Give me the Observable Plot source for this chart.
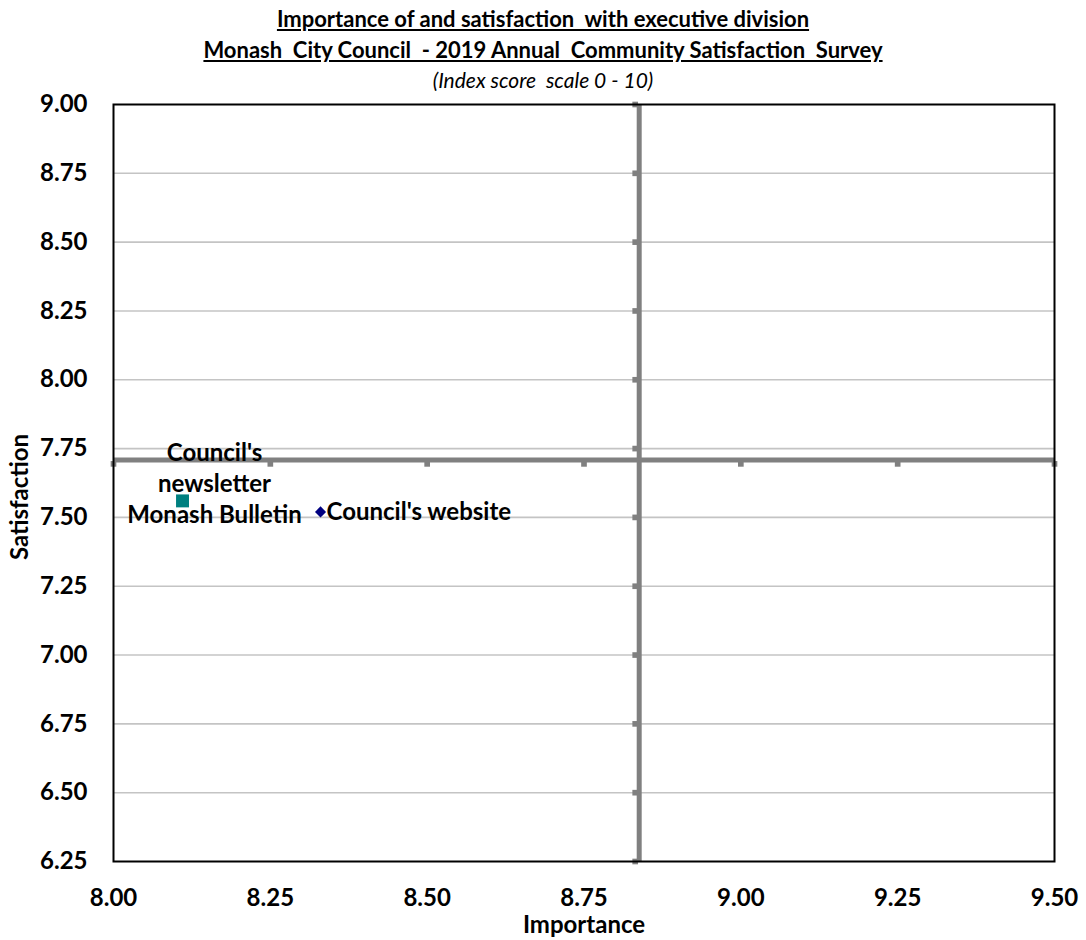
<!DOCTYPE html>
<html>
<head>
<meta charset="utf-8">
<script src="https://cdn.jsdelivr.net/npm/d3@7"></script>
<script src="https://cdn.jsdelivr.net/npm/@observablehq/plot@0.6"></script>
<style>
  body { margin: 0; background: #fff; font-family: Lato, "Open Sans", sans-serif; }
  #wrap { width: 1086px; }
  .hdr { width: 1086px; height: 91px; box-sizing: border-box; text-align: center; padding-top: 3px; color: #000; overflow: hidden; }
  .hdr div { height: 31px; line-height: 31px; white-space: pre; }
  .hdr div.s { height: 22px; line-height: 22px; margin-top: 4px; }
  .t { font-weight: bold; font-size: 22px; text-decoration: underline; }
  .s { font-style: italic; font-size: 21px; }
  #chart svg { display: block; }
</style>
</head>
<body>
<div id="wrap"><div class="hdr"><div class="t" id="t1"></div><div class="t" id="t2"></div><div class="s" id="t3"></div></div><div id="chart"></div></div>
<script>
// ---- data ----
const titleLines = ["Importance of and satisfaction  with executive division",
                    "Monash  City Council  - 2019 Annual  Community Satisfaction  Survey"];
const subtitle = "(Index score  scale 0 - 10)";
const items = ["Council's newsletter Monash Bulletin", "Council's website"];
const itemLabels = ["Council's\nnewsletter\nMonash Bulletin", "Council's website"];
const importance = [8.11, 8.33];
const satisfaction = [7.56, 7.52];
const markerShapes = ["square", "diamond2"];
const markerColors = ["#008080", "#000080"];
const meanImportance = 8.838;
const meanSatisfaction = 7.709;
const xTicks = [8.00, 8.25, 8.50, 8.75, 9.00, 9.25, 9.50];
const yTicks = [6.25, 6.50, 6.75, 7.00, 7.25, 7.50, 7.75, 8.00, 8.25, 8.50, 8.75, 9.00];
const xLabel = "Importance";
const yLabel = "Satisfaction";

document.getElementById("t1").textContent = titleLines[0];
document.getElementById("t2").textContent = titleLines[1];
document.getElementById("t3").textContent = subtitle;

const data = items.map((name, i) => ({
  name, label: itemLabels[i], x: importance[i], y: satisfaction[i],
  shape: markerShapes[i], color: markerColors[i]
}));

const gray = "#808080";
const fs = 24;
const fmt = d3.format(".2f");

const chart = Plot.plot({
  width: 1086,
  height: 849,
  marginLeft: 113,
  marginRight: 32,
  marginTop: 13,
  marginBottom: 79,
  style: { fontFamily: "Lato, 'Open Sans', sans-serif", fontSize: fs + "px", fontWeight: "bold", color: "#000", background: "#fff", overflow: "visible" },
  x: { domain: [8, 9.5] },
  y: { domain: [6.25, 9] },
  marks: [
    Plot.gridY(yTicks.filter(v => v > 6.25 && v < 9), { stroke: "#c4c4c4", strokeOpacity: 1, strokeWidth: 1.6 }),
    Plot.axisX(xTicks, { tickSize: 0, tickPadding: 27, tickFormat: fmt, fontSize: fs, fontWeight: "bold", fill: "#000", label: null }),
    Plot.axisY(yTicks, { tickSize: 0, tickPadding: 26, tickFormat: fmt, fontSize: fs, fontWeight: "bold", fill: "#000", label: null }),
    Plot.text([xLabel], { frameAnchor: "bottom", dy: 64, textAnchor: "middle", lineAnchor: "middle", fontSize: fs, fontWeight: "bold", fill: "#000" }),
    Plot.text([yLabel], { frameAnchor: "left", dx: -93, dy: 14, rotate: -90, textAnchor: "middle", lineAnchor: "middle", fontSize: fs, fontWeight: "bold", fill: "#000" }),
    // small tick squares along the mean lines
    Plot.dot(yTicks, { x: () => meanImportance, y: d => d, symbol: "square", r: 3.2, fill: gray, dx: -4 }),
    Plot.dot(xTicks, { x: d => d, y: () => meanSatisfaction, symbol: "square", r: 3.2, fill: gray, dy: 4 }),
    Plot.ruleX([meanImportance], { stroke: gray, strokeWidth: 5 }),
    Plot.ruleY([meanSatisfaction], { stroke: gray, strokeWidth: 5 }),
    Plot.frame({ stroke: "#000", strokeWidth: 2 }),
    Plot.dot(data.filter(d => d.shape === "square"), { x: "x", y: "y", symbol: "square", fill: "color", r: 7.3 }),
    Plot.dot(data.filter(d => d.shape === "diamond2"), { x: "x", y: "y", symbol: "diamond2", fill: "color", r: 5 }),
    Plot.text(data.filter((d, i) => i === 0), { x: "x", y: "y", text: "label", dx: 32, dy: -19, lineHeight: 1.3, textAnchor: "middle", fontSize: fs, fontWeight: "bold", fill: "#000" }),
    Plot.text(data.filter((d, i) => i === 1), { x: "x", y: "y", text: "label", dx: 6, textAnchor: "start", fontSize: fs, fontWeight: "bold", fill: "#000" })
  ]
});
document.getElementById("chart").appendChild(chart);
</script>
</body>
</html>
